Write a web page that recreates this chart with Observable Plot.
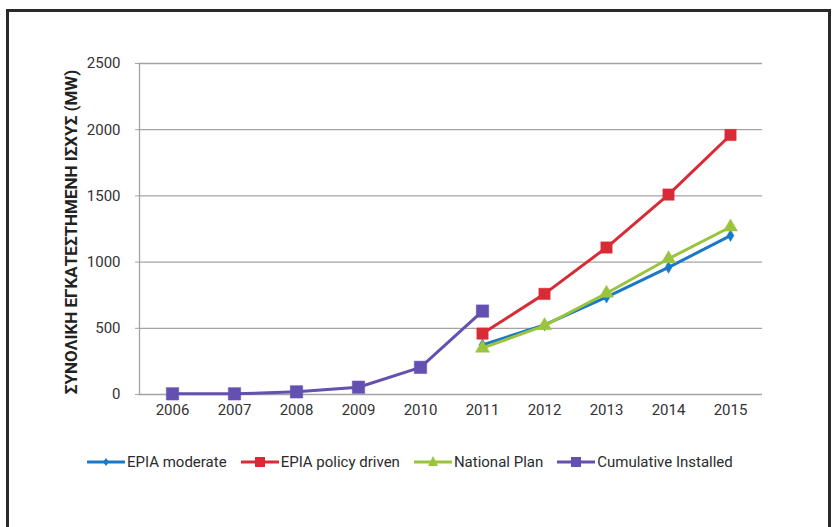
<!DOCTYPE html>
<html>
<head>
<meta charset="utf-8">
<script src="https://cdn.jsdelivr.net/npm/d3@7"></script>
<script src="https://cdn.jsdelivr.net/npm/@observablehq/plot@0.6"></script>
<style>
  html, body { margin: 0; padding: 0; background: #fff; }
  body { width: 836px; height: 527px; position: relative; overflow: hidden; font-family: Roboto, "Liberation Sans", sans-serif; }
  #frame { position: absolute; left: 6px; top: 9px; width: 825px; height: 600px; border: 3px solid #2a2a2a; box-sizing: border-box; pointer-events: none; }
  #chart { position: absolute; left: 0; top: 0; }
  #legend { position: absolute; left: 87px; top: 452px; display: flex; align-items: center; font-size: 15px; color: #2b2b2b; white-space: nowrap; }
  .item { display: flex; align-items: center; margin-right: 14px; }
  .item svg { margin-right: 2px; }
</style>
</head>
<body>
<div id="chart"></div>
<div id="legend"></div>
<div id="frame"></div>
<script>
const years = ["2006", "2007", "2008", "2009", "2010", "2011", "2012", "2013", "2014", "2015"];
const forecastYears = ["2011", "2012", "2013", "2014", "2015"];
const installedYears = ["2006", "2007", "2008", "2009", "2010", "2011"];
const epiaModerate = [375, 525, 735, 960, 1200];
const epiaPolicyDriven = [460, 760, 1110, 1510, 1960];
const nationalPlan = [350, 520, 765, 1025, 1265];
const cumulativeInstalled = [5, 5, 20, 55, 205, 630];
const yTicks = [0, 500, 1000, 1500, 2000, 2500];
const seriesNames = ["EPIA moderate", "EPIA policy driven", "National Plan", "Cumulative Installed"];
const seriesColors = ["#1a78c8", "#d92b36", "#9ac43c", "#6450b0"];
const seriesSymbols = ["diamond", "square", "triangle", "square"];
const seriesSizes = [3.6, 6.4, 5.2, 7];
const yLabel = "ΣΥΝΟΛΙΚΗ ΕΓΚΑΤΕΣΤΗΜΕΝΗ ΙΣΧΥΣ (MW)";

const seriesData = [
  forecastYears.map((y, i) => ({year: y, value: epiaModerate[i]})),
  forecastYears.map((y, i) => ({year: y, value: epiaPolicyDriven[i]})),
  forecastYears.map((y, i) => ({year: y, value: nationalPlan[i]})),
  installedYears.map((y, i) => ({year: y, value: cumulativeInstalled[i]}))
];

const font = 'Roboto, "Liberation Sans", sans-serif';

const seriesMarks = seriesData.flatMap((data, k) => [
  Plot.line(data, {x: "year", y: "value", stroke: seriesColors[k], strokeWidth: 3}),
  Plot.dot(data, {x: "year", y: "value", symbol: seriesSymbols[k], r: seriesSizes[k], fill: seriesColors[k], stroke: seriesColors[k], strokeWidth: 0.5})
]);

const chart = Plot.plot({
  width: 836,
  height: 420,
  marginLeft: 139,
  marginRight: 74,
  marginTop: 63,
  marginBottom: 26,
  style: {fontFamily: font, color: "#333", background: "transparent"},
  x: {type: "point", domain: years, padding: 0.5},
  y: {domain: [0, 2500]},
  marks: [
    Plot.gridY(yTicks, {stroke: "#a3a3a3", strokeOpacity: 1, strokeWidth: 1.3}),
    Plot.frame({anchor: "left", stroke: "#a3a3a3", strokeWidth: 1.3}),
    Plot.axisY(yTicks, {tickSize: 4, tickPadding: 15, fontSize: 15, label: null, stroke: "#a3a3a3", tickFormat: d => String(d)}),
    Plot.axisX({tickSize: 0, tickPadding: 10, fontSize: 15, label: null}),
    ...seriesMarks,
    Plot.text([yLabel], {text: d => d, frameAnchor: "left", dx: -68, dy: 3, rotate: -90, textAnchor: "middle", lineAnchor: "middle", fontWeight: "bold", fontSize: 17, fill: "#222"})
  ]
});
document.getElementById("chart").appendChild(chart);

const legend = document.getElementById("legend");
const symbolPaths = {
  diamond: "M19,6 L22,10 L19,14 L16,10 Z",
  square: "M14,5 L24,5 L24,15 L14,15 Z",
  triangle: "M19,4 L24,14 L14,14 Z"
};
seriesNames.forEach((name, k) => {
  const item = document.createElement("div");
  item.className = "item";
  item.innerHTML = `<svg width="38" height="20" viewBox="0 0 38 20"><line x1="0" y1="10" x2="38" y2="10" stroke="${seriesColors[k]}" stroke-width="3"/><path d="${symbolPaths[seriesSymbols[k]]}" fill="${seriesColors[k]}"/></svg><span>${name}</span>`;
  legend.appendChild(item);
});
</script>
</body>
</html>
